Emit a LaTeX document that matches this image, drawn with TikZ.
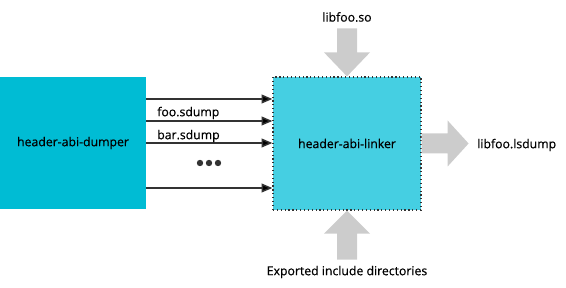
\documentclass[tikz,border=0pt]{standalone}
\usepackage{fontspec}
\setmainfont{Open Sans}
\usetikzlibrary{arrows.meta}
\definecolor{dumpercol}{HTML}{00BCD4}
\definecolor{linkercol}{HTML}{45CFE2}
\definecolor{bigarrowcol}{HTML}{CCCCCC}
\definecolor{inkcol}{HTML}{333333}
\begin{document}
\begin{tikzpicture}[x=0.75pt, y=-0.75pt,
  every node/.style={font=\fontsize{9.2}{11}\selectfont\addfontfeature{FakeBold=0.5}, text=black},
  toolbox/.style={inner sep=0, minimum width=#1},
  feed/.style={draw=inkcol, line width=1.1pt, -{Triangle[length=8pt,width=6.5pt,fill=black]}},
  bigarrow/.style={fill=bigarrowcol}]
  \useasboundingbox (0,0) rectangle (566,288);
  \node[toolbox=109.5pt, minimum height=99pt, fill=dumpercol] (dumper) at (73,143) {header-abi-dumper};
  \node[toolbox=111pt, minimum height=99.75pt, fill=linkercol, draw=inkcol, dotted, line width=0.9pt] (linker) at (347,143.5) {header-abi-linker};
  \foreach \y in {99,121,143,188}
    \draw[feed] (dumper.east |- 0,\y) -- (linker.west |- 0,\y);
  \node[anchor=west, inner sep=0] (foo) at (157,113) {foo.sdump};
  \node[anchor=west, inner sep=0] (bar) at (157,136) {bar.sdump};
  \foreach \x in {200,209,218}
    \fill[inkcol] (\x,163) circle (2.4pt);
  \node (so) at (347,17) {libfoo.so};
  \fill[bigarrow] (linker.north) -- ++(23,-24) -- ++(-13,0) -- ++(0,-24) -- ++(-20,0) -- ++(0,24) -- ++(-13,0) -- cycle;
  \node (incdirs) at (347,272) {Exported include directories};
  \fill[bigarrow] (linker.south) -- ++(23,23) -- ++(-13,0) -- ++(0,26) -- ++(-20,0) -- ++(0,-26) -- ++(-13,0) -- cycle;
  \node[anchor=west, inner sep=0] (lsdump) at (477,145) {libfoo.lsdump};
  \fill[bigarrow] (linker.east) ++(0,-10) -- ++(26,0) -- ++(0,-13) -- ++(21,23) -- ++(-21,23) -- ++(0,-13) -- ++(-26,0) -- cycle;
\end{tikzpicture}
\end{document}
